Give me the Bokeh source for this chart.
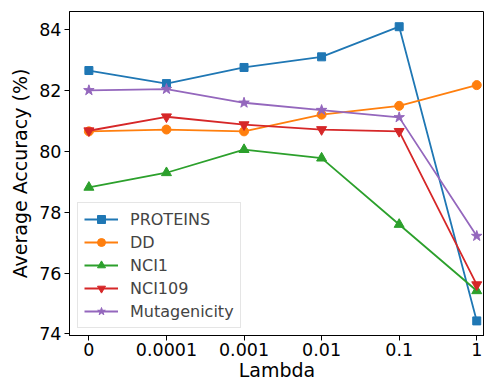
from bokeh.plotting import figure
from bokeh.models import FixedTicker, Range1d, Legend
from bokeh.embed import file_html
from bokeh.resources import INLINE

lambdas = ["0", "0.0001", "0.001", "0.01", "0.1", "1"]
proteins = [82.66, 82.23, 82.76, 83.11, 84.10, 74.43]
dd = [80.66, 80.72, 80.66, 81.21, 81.50, 82.18]
nci1 = [78.82, 79.30, 80.06, 79.78, 77.60, 75.42]
nci109 = [80.68, 81.14, 80.88, 80.72, 80.66, 75.62]
mutagenicity = [82.01, 82.05, 81.60, 81.36, 81.12, 77.22]

series = [
    ("PROTEINS", proteins, "#1f77b4", "square", 8),
    ("DD", dd, "#ff7f0e", "circle", 9),
    ("NCI1", nci1, "#2ca02c", "triangle", 10),
    ("NCI109", nci109, "#d62728", "inverted_triangle", 10),
    ("Mutagenicity", mutagenicity, "#9467bd", "star", 11),
]

xs = list(range(len(lambdas)))

p = figure(width=484, height=383, output_backend="svg", toolbar_location=None,
           x_range=Range1d(-0.25, 5.1), y_range=Range1d(73.95, 84.6),
           min_border_left=69, min_border_top=11, min_border_right=0, min_border_bottom=48)

items = []
for name, vals, color, marker, sz in series:
    l = p.line(xs, vals, line_color=color, line_width=1.8)
    s = p.scatter(xs, vals, marker=marker, size=sz, fill_color=color, line_color=color)
    items.append((name, [l, s]))

legend = Legend(items=items, location=(8, 7))
legend.label_text_font = "DejaVu Sans"
legend.label_text_font_size = "16px"
legend.glyph_width = 34
legend.glyph_height = 20
legend.label_height = 20
legend.spacing = 3
legend.padding = 6
legend.margin = 0
legend.border_line_color = "#cccccc"
legend.border_line_width = 1
legend.background_fill_alpha = 0.8
legend.label_standoff = 12
p.add_layout(legend, "center")

p.xaxis.ticker = FixedTicker(ticks=xs)
p.xaxis.major_label_overrides = {i: t for i, t in enumerate(lambdas)}
p.yaxis.ticker = FixedTicker(ticks=[74, 76, 78, 80, 82, 84])

for ax in [p.xaxis[0], p.yaxis[0]]:
    ax.major_label_text_font = "DejaVu Sans"
    ax.major_label_text_font_size = "17.5px"
    ax.major_label_text_color = "black"
    ax.axis_label_text_font = "DejaVu Sans"
    ax.axis_label_text_font_size = "19px"
    ax.axis_label_text_font_style = "normal"
    ax.axis_label_text_color = "black"
    ax.minor_tick_line_color = None
    ax.major_tick_out = 5
    ax.major_tick_in = 0
    ax.axis_line_color = "black"
    ax.major_tick_line_color = "black"

p.xaxis.major_label_standoff = 2
p.yaxis.major_label_standoff = 3
p.xaxis.axis_label = "Lambda"
p.yaxis.axis_label = "Average Accuracy (%)"
p.xaxis.axis_label_standoff = 0
p.yaxis.axis_label_standoff = 5

p.xgrid.grid_line_color = None
p.ygrid.grid_line_color = None
p.outline_line_color = "black"
p.outline_line_width = 1

open("out.html", "w").write(file_html(p, INLINE))
